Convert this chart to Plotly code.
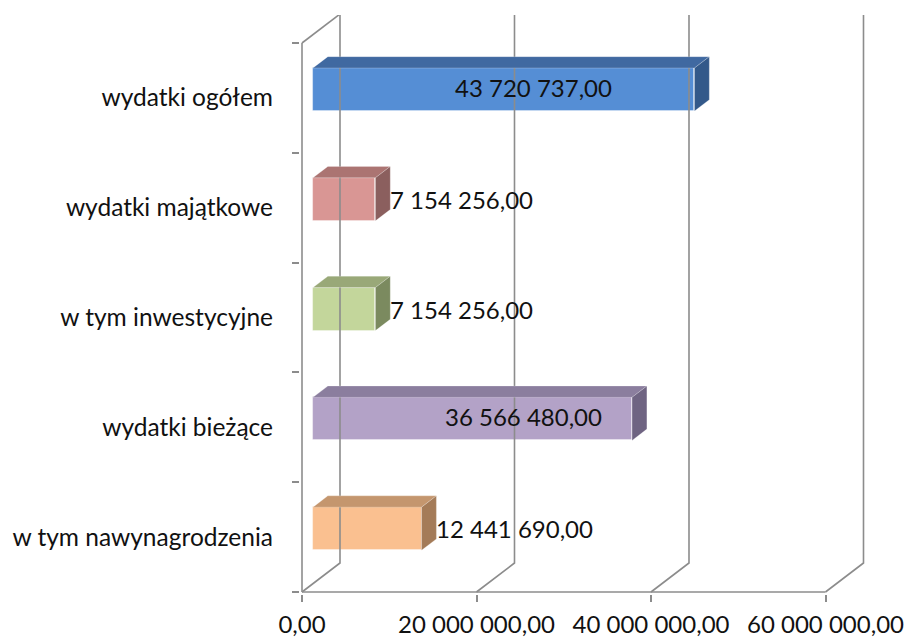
import plotly.graph_objects as go

# Budget categories (bottom to top) and their amounts
categories = [
    "w tym nawynagrodzenia",
    "wydatki bieżące",
    "w tym inwestycyjne",
    "wydatki majątkowe",
    "wydatki ogółem",
]
values = [12441690.00, 36566480.00, 7154256.00, 7154256.00, 43720737.00]
axis_ticks = [0, 20000000, 40000000, 60000000]

front_colors = ["#FAC090", "#B3A2C7", "#C3D69B", "#D99694", "#558ED5"]
top_colors = ["#C4966E", "#8B7E9E", "#99A878", "#AB7472", "#4069A1"]
side_colors = ["#A47B58", "#6F6482", "#7B8A5F", "#8B5F5E", "#33598A"]


def pl_number(v):
    """Polish number format: space thousands separator, comma decimals."""
    s = f"{v:,.2f}"
    return s.replace(",", " ").replace(".", ",")


# ---- page geometry -------------------------------------------------------
W, H = 907, 639
ML, MR, MT, MB = 300, 37, 15, 45
PX_PER_VAL = 174.5 / 20e6       # horizontal scale
CAT_PX = 109.8                  # vertical size of one category band
plot_w = W - ML - MR
plot_h = H - MT - MB
X_MIN = -2 / PX_PER_VAL         # small pad so the front axis line is not clipped
X_MAX = X_MIN + plot_w / PX_PER_VAL
Y_MIN = -0.5 - 2 / CAT_PX
Y_MAX = Y_MIN + plot_h / CAT_PX

# oblique depth of the chart box (pixels -> data units)
DX = 38 / PX_PER_VAL
DY = 29 / CAT_PX
F1, F2 = 0.29, 0.68            # bar front / back depth fractions
HW = 0.196                     # half bar thickness (categories)

GRID = "#8C8C8C"
FONT = dict(family="Lato, Carlito, sans-serif", size=24, color="#111111")
LABEL_FONT = dict(family="Lato, Carlito, sans-serif", size=24.5, color="#111111")

fig = go.Figure()

# ---- walls: gridlines on the back plane + depth diagonals ----------------
gx, gy = [], []
y0, y1 = -0.5, len(categories) - 0.5
for t in axis_ticks:
    gx += [t, t + DX, t + DX, None]
    gy += [y0, y0 + DY, y1 + DY, None]
gx += [0, DX, None]
gy += [y1, y1 + DY, None]
# front axis lines
gx += [0, 0, None, 0, axis_ticks[-1], None]
gy += [y1, y0, None, y0, y0, None]
fig.add_trace(go.Scatter(x=gx, y=gy, mode="lines",
                         line=dict(color=GRID, width=1.6),
                         hoverinfo="skip", showlegend=False))

# ---- bar top and side faces ----------------------------------------------
b0 = F1 * DX
ddx = (F2 - F1) * DX
ddy = (F2 - F1) * DY
for i, v in enumerate(values):
    yc = i + F1 * DY
    yt, yb = yc + HW, yc - HW
    fig.add_trace(go.Scatter(
        x=[b0, b0 + v, b0 + v + ddx, b0 + ddx, b0],
        y=[yt, yt, yt + ddy, yt + ddy, yt],
        fill="toself", fillcolor=top_colors[i], mode="lines",
        line=dict(color="rgba(255,255,255,0.35)", width=0.6),
        hoverinfo="skip", showlegend=False))
    fig.add_trace(go.Scatter(
        x=[b0 + v, b0 + v, b0 + v + ddx, b0 + v + ddx, b0 + v],
        y=[yb, yt, yt + ddy, yb + ddy, yb],
        fill="toself", fillcolor=side_colors[i], mode="lines",
        line=dict(color="rgba(255,255,255,0.35)", width=0.6),
        hoverinfo="skip", showlegend=False))

# ---- bar front faces ------------------------------------------------------
fig.add_trace(go.Bar(
    orientation="h",
    x=values,
    base=[b0] * len(values),
    y=[i + F1 * DY for i in range(len(values))],
    width=2 * HW,
    marker=dict(color=front_colors,
                line=dict(color="rgba(255,255,255,0.45)", width=0.8)),
    hoverinfo="skip", showlegend=False))

# ---- value labels ---------------------------------------------------------
inside_center = {4: 26.55e6, 1: 25.4e6}   # label centres for long bars
for i, v in enumerate(values):
    yc = i + F1 * DY
    if i in inside_center:
        fig.add_annotation(x=inside_center[i], y=yc, text=pl_number(v),
                           showarrow=False, xanchor="center", yanchor="middle",
                           yshift=2, font=FONT)
    else:
        fig.add_annotation(x=b0 + v + ddx, y=yc, text=pl_number(v),
                           showarrow=False, xanchor="left", yanchor="middle",
                           xshift=-2, font=FONT)

fig.update_layout(
    width=W, height=H,
    margin=dict(l=ML, r=MR, t=MT, b=MB),
    paper_bgcolor="white", plot_bgcolor="white",
    font=FONT,
    bargap=0,
    xaxis=dict(range=[X_MIN, X_MAX], tickmode="array", tickvals=axis_ticks,
               ticktext=[pl_number(t) for t in axis_ticks],
               ticks="outside", ticklen=7, tickwidth=1.6, tickcolor=GRID,
               showgrid=False, zeroline=False, showline=False,
               ticklabelstandoff=2, automargin=False, fixedrange=True),
    yaxis=dict(range=[Y_MIN, Y_MAX], tickmode="array",
               tickvals=list(range(len(categories))), ticktext=categories,
               tickfont=LABEL_FONT,
               ticks="", showgrid=False, zeroline=False, showline=False,
               ticklabelstandoff=26, automargin=False,
               minor=dict(tickmode="array",
                          tickvals=[k - 0.5 for k in range(len(categories) + 1)],
                          ticks="outside", ticklen=7, tickwidth=1.6,
                          tickcolor=GRID, showgrid=False),
               fixedrange=True),
)

fig.write_html("out.html")
